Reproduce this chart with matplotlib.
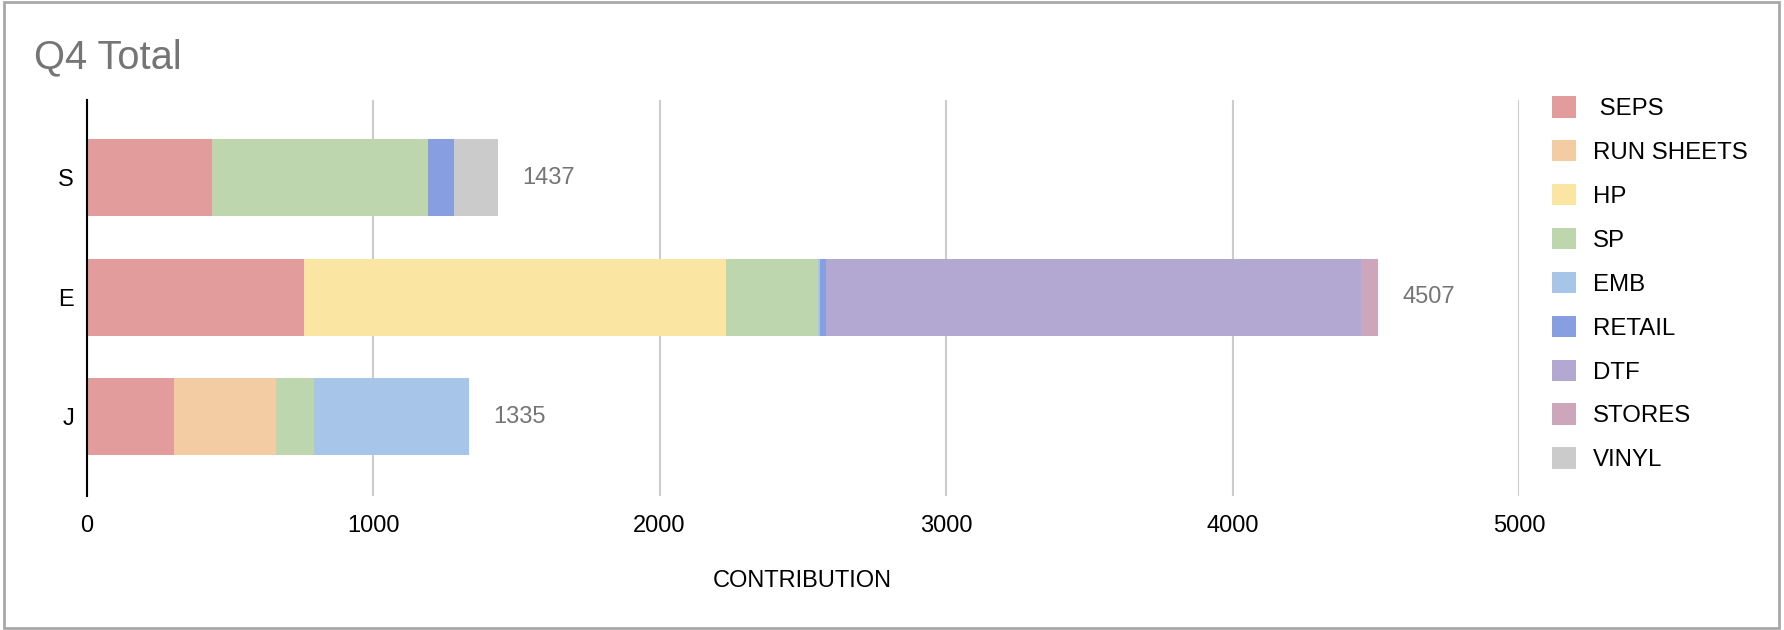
import matplotlib.pyplot as plt
from matplotlib.patches import Patch, Rectangle

plt.rcParams["font.family"] = ["Liberation Sans", "DejaVu Sans"]

# rows, top to bottom
people = ["S", "E", "J"]
categories = [" SEPS", "RUN SHEETS", "HP", "SP", "EMB", "RETAIL", "DTF", "STORES", "VINYL"]
colors = ["#e19c9b", "#f3cca3", "#fae5a2", "#bdd6ae", "#a7c5e8",
          "#879ee0", "#b3a8d1", "#cea6bb", "#cbcbcb"]

seps = [439, 759, 305]
run_sheets = [0, 0, 356]
hp = [0, 1474, 0]
sp = [753, 320, 133]
emb = [0, 7, 541]
retail = [90, 21, 0]
dtf = [0, 1869, 0]
stores = [0, 57, 0]
vinyl = [155, 0, 0]

series = [seps, run_sheets, hp, sp, emb, retail, dtf, stores, vinyl]
ticks = [0, 1000, 2000, 3000, 4000, 5000]


def main():
    fig = plt.figure(figsize=(17.84, 6.30), dpi=100, facecolor="white")
    ax = fig.add_axes([86.5 / 1784, 1 - 496 / 630, (1519 - 86.5) / 1784, 396 / 630])

    ypos = list(range(len(people)))
    left = [0] * len(people)
    for values, color, name in zip(series, colors, categories):
        ax.barh(ypos, values, left=left, height=0.645, color=color, label=name, zorder=2)
        left = [a + b for a, b in zip(left, values)]

    for y, total in zip(ypos, left):
        ax.annotate(str(total), (total, y), xytext=(17.5, 0), textcoords="offset points",
                    ha="left", va="center", fontsize=17, color="#757575")

    ax.set_xlim(0, 5000)
    ax.set_ylim(2.665, -0.649)
    ax.set_xticks(ticks)
    ax.set_yticks(ypos)
    ax.set_yticklabels(people)
    ax.tick_params(axis="x", length=0, pad=13.5, labelsize=17, labelcolor="black")
    ax.tick_params(axis="y", length=0, pad=9, labelsize=17, labelcolor="black")
    ax.grid(axis="x", color="#cccccc", linewidth=1.5, zorder=0)
    for side in ["top", "right", "bottom"]:
        ax.spines[side].set_visible(False)
    ax.spines["left"].set_color("black")
    ax.spines["left"].set_linewidth(1.5)
    ax.spines["left"].set_zorder(3)
    ax.set_xlabel("CONTRIBUTION", fontsize=17, color="black", labelpad=24)

    fig.text(34 / 1784, 1 - 68 / 630, "Q4 Total", fontsize=28.7, color="#757575",
             ha="left", va="baseline")

    handles = [Patch(facecolor=c, edgecolor="none") for c in colors]
    fig.legend(handles, categories, loc="upper left", bbox_to_anchor=(1552 / 1784, 1 - 96 / 630),
               frameon=False, fontsize=17.3, handlelength=1.0, handleheight=1.0,
               handletextpad=0.72, labelspacing=0.83, borderpad=0, borderaxespad=0)

    fig.patches.append(Rectangle((0.002, 0.003), 0.995, 0.994, transform=fig.transFigure,
                                 fill=False, edgecolor="#a8a8a8", linewidth=2))

    plt.savefig("out.png", dpi=100, facecolor="white")


if __name__ == "__main__":
    main()
